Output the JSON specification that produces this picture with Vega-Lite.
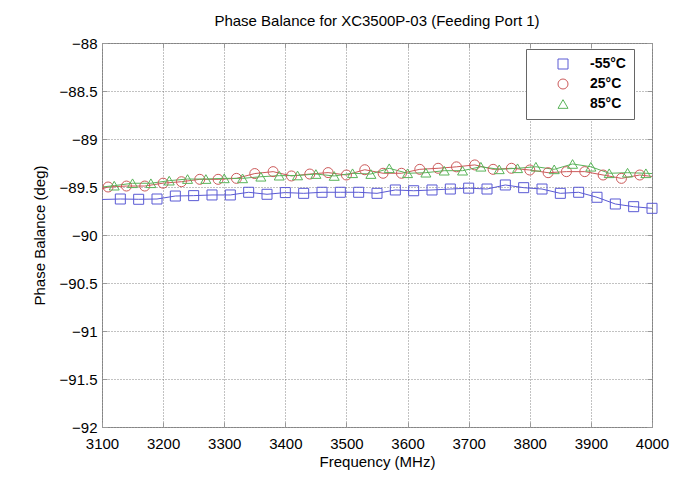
{
  "$schema": "https://vega.github.io/schema/vega-lite/v6.json",
  "width": 550,
  "height": 384,
  "autosize": {"type": "none"},
  "padding": {"left": 102, "top": 43, "right": 44, "bottom": 51},
  "background": "white",
  "title": {"text": "Phase Balance for XC3500P-03 (Feeding Port 1)", "font": "Liberation Sans", "fontSize": 15, "fontWeight": "normal", "color": "#000", "baseline": "bottom", "offset": -8},
  "config": {
    "view": {"stroke": "#999", "strokeWidth": 1},
    "axis": {"labelFont": "Liberation Sans", "titleFont": "Liberation Sans", "labelFontSize": 15, "titleFontSize": 15, "titleFontWeight": "normal", "labelColor": "#000", "titleColor": "#000", "domainColor": "#999", "tickColor": "#999", "gridColor": "#666", "gridDash": [1, 2], "gridOpacity": 0.8, "labelFlush": false, "labelOverlap": false}
  },
  "resolve": {"axis": {"x": "independent", "y": "independent"}},
  "datasets": {
    "pts": [
      {"series": "-55°C", "f": 3100, "v": -89.63, "m": 0},
      {"series": "-55°C", "f": 3130, "v": -89.625, "m": 1},
      {"series": "-55°C", "f": 3160, "v": -89.628, "m": 1},
      {"series": "-55°C", "f": 3190, "v": -89.625, "m": 1},
      {"series": "-55°C", "f": 3220, "v": -89.594, "m": 1},
      {"series": "-55°C", "f": 3250, "v": -89.59, "m": 1},
      {"series": "-55°C", "f": 3280, "v": -89.583, "m": 1},
      {"series": "-55°C", "f": 3310, "v": -89.583, "m": 1},
      {"series": "-55°C", "f": 3340, "v": -89.555, "m": 1},
      {"series": "-55°C", "f": 3370, "v": -89.576, "m": 1},
      {"series": "-55°C", "f": 3400, "v": -89.558, "m": 1},
      {"series": "-55°C", "f": 3430, "v": -89.566, "m": 1},
      {"series": "-55°C", "f": 3460, "v": -89.555, "m": 1},
      {"series": "-55°C", "f": 3490, "v": -89.555, "m": 1},
      {"series": "-55°C", "f": 3520, "v": -89.555, "m": 1},
      {"series": "-55°C", "f": 3550, "v": -89.566, "m": 1},
      {"series": "-55°C", "f": 3580, "v": -89.531, "m": 1},
      {"series": "-55°C", "f": 3610, "v": -89.539, "m": 1},
      {"series": "-55°C", "f": 3640, "v": -89.531, "m": 1},
      {"series": "-55°C", "f": 3670, "v": -89.521, "m": 1},
      {"series": "-55°C", "f": 3700, "v": -89.512, "m": 1},
      {"series": "-55°C", "f": 3730, "v": -89.521, "m": 1},
      {"series": "-55°C", "f": 3760, "v": -89.479, "m": 1},
      {"series": "-55°C", "f": 3790, "v": -89.507, "m": 1},
      {"series": "-55°C", "f": 3820, "v": -89.521, "m": 1},
      {"series": "-55°C", "f": 3850, "v": -89.566, "m": 1},
      {"series": "-55°C", "f": 3880, "v": -89.555, "m": 1},
      {"series": "-55°C", "f": 3910, "v": -89.607, "m": 1},
      {"series": "-55°C", "f": 3940, "v": -89.677, "m": 1},
      {"series": "-55°C", "f": 3970, "v": -89.705, "m": 1},
      {"series": "-55°C", "f": 4000, "v": -89.722, "m": 1},

      {"series": "25°C", "f": 3100, "v": -89.52, "m": 0},
      {"series": "25°C", "f": 3110, "v": -89.5, "m": 1},
      {"series": "25°C", "f": 3140, "v": -89.49, "m": 1},
      {"series": "25°C", "f": 3170, "v": -89.49, "m": 1},
      {"series": "25°C", "f": 3200, "v": -89.46, "m": 1},
      {"series": "25°C", "f": 3230, "v": -89.445, "m": 1},
      {"series": "25°C", "f": 3260, "v": -89.42, "m": 1},
      {"series": "25°C", "f": 3290, "v": -89.42, "m": 1},
      {"series": "25°C", "f": 3320, "v": -89.41, "m": 1},
      {"series": "25°C", "f": 3350, "v": -89.36, "m": 1},
      {"series": "25°C", "f": 3380, "v": -89.34, "m": 1},
      {"series": "25°C", "f": 3410, "v": -89.385, "m": 1},
      {"series": "25°C", "f": 3440, "v": -89.365, "m": 1},
      {"series": "25°C", "f": 3470, "v": -89.35, "m": 1},
      {"series": "25°C", "f": 3500, "v": -89.375, "m": 1},
      {"series": "25°C", "f": 3530, "v": -89.32, "m": 1},
      {"series": "25°C", "f": 3560, "v": -89.357, "m": 1},
      {"series": "25°C", "f": 3590, "v": -89.357, "m": 1},
      {"series": "25°C", "f": 3620, "v": -89.316, "m": 1},
      {"series": "25°C", "f": 3650, "v": -89.305, "m": 1},
      {"series": "25°C", "f": 3680, "v": -89.29, "m": 1},
      {"series": "25°C", "f": 3710, "v": -89.27, "m": 1},
      {"series": "25°C", "f": 3740, "v": -89.316, "m": 1},
      {"series": "25°C", "f": 3770, "v": -89.305, "m": 1},
      {"series": "25°C", "f": 3800, "v": -89.323, "m": 1},
      {"series": "25°C", "f": 3830, "v": -89.351, "m": 1},
      {"series": "25°C", "f": 3860, "v": -89.34, "m": 1},
      {"series": "25°C", "f": 3890, "v": -89.34, "m": 1},
      {"series": "25°C", "f": 3920, "v": -89.375, "m": 1},
      {"series": "25°C", "f": 3950, "v": -89.41, "m": 1},
      {"series": "25°C", "f": 3980, "v": -89.375, "m": 1},
      {"series": "25°C", "f": 4000, "v": -89.39, "m": 0},

      {"series": "85°C", "f": 3100, "v": -89.5, "m": 0},
      {"series": "85°C", "f": 3120, "v": -89.486, "m": 1},
      {"series": "85°C", "f": 3150, "v": -89.461, "m": 1},
      {"series": "85°C", "f": 3180, "v": -89.461, "m": 1},
      {"series": "85°C", "f": 3210, "v": -89.434, "m": 1},
      {"series": "85°C", "f": 3240, "v": -89.417, "m": 1},
      {"series": "85°C", "f": 3270, "v": -89.417, "m": 1},
      {"series": "85°C", "f": 3300, "v": -89.41, "m": 1},
      {"series": "85°C", "f": 3330, "v": -89.41, "m": 1},
      {"series": "85°C", "f": 3360, "v": -89.393, "m": 1},
      {"series": "85°C", "f": 3390, "v": -89.382, "m": 1},
      {"series": "85°C", "f": 3420, "v": -89.38, "m": 1},
      {"series": "85°C", "f": 3450, "v": -89.365, "m": 1},
      {"series": "85°C", "f": 3480, "v": -89.385, "m": 1},
      {"series": "85°C", "f": 3510, "v": -89.357, "m": 1},
      {"series": "85°C", "f": 3540, "v": -89.365, "m": 1},
      {"series": "85°C", "f": 3570, "v": -89.305, "m": 1},
      {"series": "85°C", "f": 3600, "v": -89.357, "m": 1},
      {"series": "85°C", "f": 3630, "v": -89.351, "m": 1},
      {"series": "85°C", "f": 3660, "v": -89.33, "m": 1},
      {"series": "85°C", "f": 3690, "v": -89.33, "m": 1},
      {"series": "85°C", "f": 3720, "v": -89.289, "m": 1},
      {"series": "85°C", "f": 3750, "v": -89.316, "m": 1},
      {"series": "85°C", "f": 3780, "v": -89.305, "m": 1},
      {"series": "85°C", "f": 3810, "v": -89.289, "m": 1},
      {"series": "85°C", "f": 3840, "v": -89.316, "m": 1},
      {"series": "85°C", "f": 3870, "v": -89.26, "m": 1},
      {"series": "85°C", "f": 3900, "v": -89.289, "m": 1},
      {"series": "85°C", "f": 3930, "v": -89.357, "m": 1},
      {"series": "85°C", "f": 3960, "v": -89.351, "m": 1},
      {"series": "85°C", "f": 3990, "v": -89.357, "m": 1},
      {"series": "85°C", "f": 4000, "v": -89.36, "m": 0}
    ]
  },
  "data": {"name": "pts"},
  "layer": [
    {
      "mark": {"type": "line", "strokeWidth": 1, "clip": true},
      "encoding": {
        "x": {"field": "f", "type": "quantitative", "scale": {"domain": [3100, 4000], "nice": false, "zero": false},
          "axis": {"title": "Frequency (MHz)", "orient": "bottom", "values": [3100, 3200, 3300, 3400, 3500, 3600, 3700, 3800, 3900, 4000], "format": "d", "grid": true, "tickSize": -5, "labelPadding": 14, "titlePadding": 3, "domain": false}},
        "y": {"field": "v", "type": "quantitative", "scale": {"domain": [-92, -88], "nice": false, "zero": false},
          "axis": {"title": "Phase Balance (deg)", "orient": "left", "values": [-92, -91.5, -91, -90.5, -90, -89.5, -89, -88.5, -88], "format": ".1~f", "grid": true, "tickSize": -5, "labelPadding": 10, "titlePadding": 12, "domain": false}},
        "color": {"field": "series", "type": "nominal", "scale": {"domain": ["-55°C", "25°C", "85°C"], "range": ["#5a5ad4", "#cc5a5a", "#5ab45a"]}}
      }
    },
    {
      "transform": [{"filter": "datum.m == 1"}],
      "mark": {"type": "point", "filled": false, "strokeWidth": 1, "size": 100, "opacity": 1},
      "encoding": {
        "x": {"field": "f", "type": "quantitative", "axis": {"orient": "top", "values": [3100, 3200, 3300, 3400, 3500, 3600, 3700, 3800, 3900, 4000], "labels": false, "title": null, "grid": false, "domain": false, "tickSize": -5}},
        "y": {"field": "v", "type": "quantitative", "axis": {"orient": "right", "values": [-92, -91.5, -91, -90.5, -90, -89.5, -89, -88.5, -88], "labels": false, "title": null, "grid": false, "domain": false, "tickSize": -5}},
        "color": {"field": "series", "type": "nominal",
          "legend": {"title": null, "orient": "none", "legendX": 424, "legendY": 6, "padding": 8, "symbolOffset": 22, "labelOffset": 20, "rowPadding": 6, "labelFont": "Liberation Sans", "labelFontSize": 14, "labelFontWeight": "bold", "labelColor": "#000", "strokeColor": "#666", "fillColor": "white", "symbolStrokeWidth": 1, "symbolSize": 100}},
        "shape": {"field": "series", "type": "nominal", "scale": {"domain": ["-55°C", "25°C", "85°C"], "range": ["square", "circle", "triangle-up"]}}
      }
    }
  ]
}
